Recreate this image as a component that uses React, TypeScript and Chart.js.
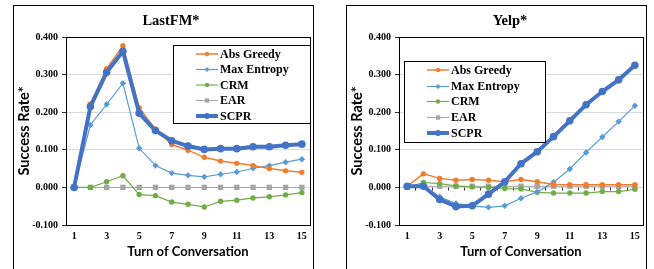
import React, { useEffect, useRef } from 'react';
import { Chart, registerables } from 'chart.js';
import { drawPoint } from 'chart.js/helpers';

Chart.register(...registerables);

// ---------- data ----------
const turns = ['1', '2', '3', '4', '5', '6', '7', '8', '9', '10', '11', '12', '13', '14', '15'];
const seriesNames = ['Abs Greedy', 'Max Entropy', 'CRM', 'EAR', 'SCPR'];
const yTickValues = [-0.1, 0, 0.1, 0.2, 0.3, 0.4];

const lastfmAbsGreedy = [0, 0.222, 0.316, 0.377, 0.211, 0.155, 0.114, 0.099, 0.080, 0.070, 0.064, 0.058, 0.050, 0.044, 0.040];
const lastfmMaxEntropy = [0, 0.166, 0.221, 0.277, 0.104, 0.058, 0.038, 0.032, 0.028, 0.035, 0.041, 0.051, 0.058, 0.067, 0.075];
const lastfmCRM = [0, 0, 0.015, 0.031, -0.019, -0.022, -0.039, -0.045, -0.052, -0.037, -0.034, -0.028, -0.025, -0.020, -0.014];
const lastfmEAR = [0, 0, 0, 0, 0, 0, 0, 0, 0, 0, 0, 0, 0, 0, 0];
const lastfmSCPR = [0, 0.215, 0.306, 0.362, 0.197, 0.151, 0.124, 0.110, 0.101, 0.103, 0.103, 0.108, 0.108, 0.112, 0.115];

const yelpAbsGreedy = [0.003, 0.036, 0.024, 0.019, 0.021, 0.019, 0.015, 0.021, 0.015, 0.008, 0.007, 0.007, 0.007, 0.007, 0.007];
const yelpMaxEntropy = [0.003, 0.003, -0.025, -0.043, -0.049, -0.053, -0.049, -0.029, -0.012, 0.014, 0.049, 0.093, 0.134, 0.175, 0.217];
const yelpCRM = [0, 0.013, 0.010, 0.004, 0.001, 0, -0.003, -0.004, -0.013, -0.015, -0.015, -0.015, -0.011, -0.011, -0.005];
const yelpEAR = [0, 0.003, 0.003, 0.003, 0.003, 0.003, 0.003, 0.003, 0.003, 0.003, 0.003, 0.003, 0.003, 0.003, 0.003];
const yelpSCPR = [0.003, 0.003, -0.032, -0.051, -0.049, -0.018, 0.015, 0.063, 0.095, 0.135, 0.177, 0.220, 0.255, 0.286, 0.325];

// ---------- styles ----------
const SERIF = "'Liberation Serif', 'Times New Roman', serif";
const SANS = "Lato, 'Liberation Sans', sans-serif";

const seriesStyles = [
  { color: '#ED7D31', width: 1.5, pointStyle: 'circle', radius: 2.7, order: 1 },
  { color: '#5B9BD5', width: 1.2, pointStyle: 'rectRot', radius: 3.2, order: 2 },
  { color: '#70AD47', width: 1.2, pointStyle: 'circle', radius: 2.7, order: 3 },
  { color: '#A5A5A5', width: 1, pointStyle: 'rect', radius: 3.8, order: 4 },
  { color: '#4472C4', width: 4, pointStyle: 'circle', radius: 3.8, order: 0 },
];

// ---------- plugins ----------
const plotBorderPlugin = {
  id: 'plotBorder',
  beforeDatasetsDraw(chart: any) {
    const { ctx, chartArea } = chart;
    ctx.save();
    ctx.strokeStyle = '#000';
    ctx.lineWidth = 1;
    ctx.strokeRect(
      Math.round(chartArea.left) + 0.5,
      Math.round(chartArea.top) + 0.5,
      Math.round(chartArea.right) - Math.round(chartArea.left),
      Math.round(chartArea.bottom) - Math.round(chartArea.top)
    );
    ctx.restore();
  },
};

const zeroTicksPlugin = {
  id: 'zeroTicks',
  beforeDatasetsDraw(chart: any, _args: any, opts: any) {
    if (!opts || !opts.enabled) return;
    const { ctx } = chart;
    const xs = chart.scales.x;
    const ys = chart.scales.y;
    const y0 = Math.round(ys.getPixelForValue(0)) + 0.5;
    ctx.save();
    ctx.strokeStyle = '#333';
    ctx.lineWidth = 1;
    for (let i = 0; i < turns.length - 1; i++) {
      const x = Math.round((xs.getPixelForValue(i) + xs.getPixelForValue(i + 1)) / 2) + 0.5;
      ctx.beginPath();
      ctx.moveTo(x, y0);
      ctx.lineTo(x, y0 + 3);
      ctx.stroke();
    }
    ctx.restore();
  },
};

const panelTitlePlugin = {
  id: 'panelTitle',
  afterDraw(chart: any, _args: any, opts: any) {
    const { ctx } = chart;
    ctx.save();
    ctx.font = `bold ${opts.size}px ${SERIF}`;
    ctx.fillStyle = '#000';
    ctx.textAlign = 'center';
    ctx.textBaseline = 'middle';
    ctx.fillText(opts.text, opts.x, opts.y);
    ctx.restore();
  },
};

const boxLegendPlugin = {
  id: 'boxLegend',
  afterDraw(chart: any, _args: any, opts: any) {
    const { ctx, chartArea } = chart;
    const right = opts.right != null ? opts.right : chartArea.right;
    ctx.save();
    ctx.fillStyle = '#fff';
    ctx.fillRect(opts.left, opts.top, right - opts.left, opts.bottom - opts.top);
    ctx.strokeStyle = '#000';
    ctx.lineWidth = 1;
    ctx.strokeRect(Math.round(opts.left) + 0.5, Math.round(opts.top) + 0.5,
      Math.round(right) - Math.round(opts.left), Math.round(opts.bottom) - Math.round(opts.top));
    chart.data.datasets.forEach((ds: any, i: number) => {
      const y = opts.rows[i];
      ctx.strokeStyle = ds.borderColor;
      ctx.lineWidth = ds.borderWidth;
      ctx.beginPath();
      ctx.moveTo(opts.lineX0, y);
      ctx.lineTo(opts.lineX1, y);
      ctx.stroke();
      ctx.fillStyle = ds.pointBackgroundColor;
      drawPoint(ctx, {
        pointStyle: ds.pointStyle,
        radius: Math.max(2.2, ds.pointRadius * 0.8),
        rotation: 0,
        borderWidth: 0,
      } as any, (opts.lineX0 + opts.lineX1) / 2, y);
      ctx.fillStyle = '#000';
      ctx.font = `bold 12px ${SERIF}`;
      ctx.textAlign = 'left';
      ctx.textBaseline = 'middle';
      ctx.fillText(ds.label, opts.textX, y + 0.5);
    });
    ctx.restore();
  },
};

Chart.defaults.color = '#000';

type PanelProps = {
  left: number;
  title: string;
  titleX: number;
  series: number[][];
  legend: any;
  zeroTicks?: boolean;
};

function Panel({ left, title, titleX, series, legend, zeroTicks }: PanelProps) {
  const ref = useRef<HTMLCanvasElement>(null);

  useEffect(() => {
    const chart = new Chart(ref.current as HTMLCanvasElement, {
      type: 'line',
      data: {
        labels: turns,
        datasets: series.map((d, i) => ({
          label: seriesNames[i],
          data: d,
          borderColor: seriesStyles[i].color,
          backgroundColor: seriesStyles[i].color,
          pointBackgroundColor: seriesStyles[i].color,
          pointBorderColor: seriesStyles[i].color,
          pointBorderWidth: 0,
          borderWidth: seriesStyles[i].width,
          pointStyle: seriesStyles[i].pointStyle as any,
          pointRadius: seriesStyles[i].radius,
          order: seriesStyles[i].order,
          tension: 0,
          fill: false,
          clip: 8,
        })),
      },
      options: {
        animation: false,
        responsive: false,
        events: [],
        layout: { padding: { top: 32, right: 2.5, bottom: 0, left: 0 } },
        plugins: {
          legend: { display: false },
          tooltip: { enabled: false },
          title: { display: false },
          panelTitle: { text: title, x: titleX, y: 16.5, size: 14.5 },
          boxLegend: legend,
          zeroTicks: { enabled: !!zeroTicks },
        } as any,
        scales: {
          x: {
            type: 'category',
            offset: true,
            grid: { display: false, drawTicks: false },
            border: { display: true, color: '#000', width: 1 },
            ticks: {
              autoSkip: false,
              maxRotation: 0,
              minRotation: 0,
              padding: 5,
              color: '#000',
              font: { family: SERIF, size: 10, weight: 'bold' },
              callback: (_v: any, i: number) => (i % 2 === 0 ? turns[i] : ''),
            },
            title: {
              display: true,
              text: 'Turn of Conversation',
              color: '#000',
              font: { family: SANS, size: 13, weight: 'bold' },
              padding: { top: 0, bottom: 9 },
            },
            afterFit: (s: any) => { s.height = 44; },
          },
          y: {
            type: 'linear',
            min: yTickValues[0],
            max: yTickValues[yTickValues.length - 1],
            afterBuildTicks: (s: any) => { s.ticks = yTickValues.map((v) => ({ value: v })); },
            grid: { color: '#D9D9D9', lineWidth: 1, drawTicks: true, tickLength: 4, tickColor: '#333' },
            border: { display: true, color: '#000', width: 1 },
            ticks: {
              padding: 4,
              color: '#000',
              font: { family: SERIF, size: 10, weight: 'bold' },
              callback: (v: any) => Number(v).toFixed(3),
            },
            title: {
              display: true,
              text: 'Success Rate*',
              color: '#000',
              font: { family: SANS, size: 14.5, weight: 'bold' },
              padding: { top: 3, bottom: 0 },
            },
            afterFit: (s: any) => { s.width = 53; },
          },
        },
      },
      plugins: [plotBorderPlugin, zeroTicksPlugin, panelTitlePlugin, boxLegendPlugin],
    } as any);
    return () => chart.destroy();
  }, []);

  return (
    <div style={{ position: 'absolute', left, top: 5, width: 301, height: 264 }}>
      <div style={{ position: 'absolute', left: 0, top: 0, width: 301, height: 300, border: '1px solid #000', boxSizing: 'border-box' }} />
      <canvas ref={ref} width={301} height={264} style={{ position: 'absolute', left: 0, top: 0, width: 301, height: 264 }} />
    </div>
  );
}

export default function App() {
  return (
    <div style={{ position: 'fixed', left: 0, top: 0, width: 654, height: 269, overflow: 'hidden', background: '#fff' }}>
      <Panel
        left={13}
        title="LastFM*"
        titleX={158}
        series={[lastfmAbsGreedy, lastfmMaxEntropy, lastfmCRM, lastfmEAR, lastfmSCPR]}
        legend={{ left: 159.7, top: 40, bottom: 118, rows: [49, 64.5, 80, 95.5, 111], lineX0: 183, lineX1: 205, textX: 207 }}
      />
      <Panel
        left={346}
        title="Yelp*"
        titleX={164}
        series={[yelpAbsGreedy, yelpMaxEntropy, yelpCRM, yelpEAR, yelpSCPR]}
        legend={{ left: 58, top: 56, bottom: 137, right: 199, rows: [65, 81.5, 96.5, 112.5, 128], lineX0: 81, lineX1: 103, textX: 105 }}
        zeroTicks
      />
    </div>
  );
}
